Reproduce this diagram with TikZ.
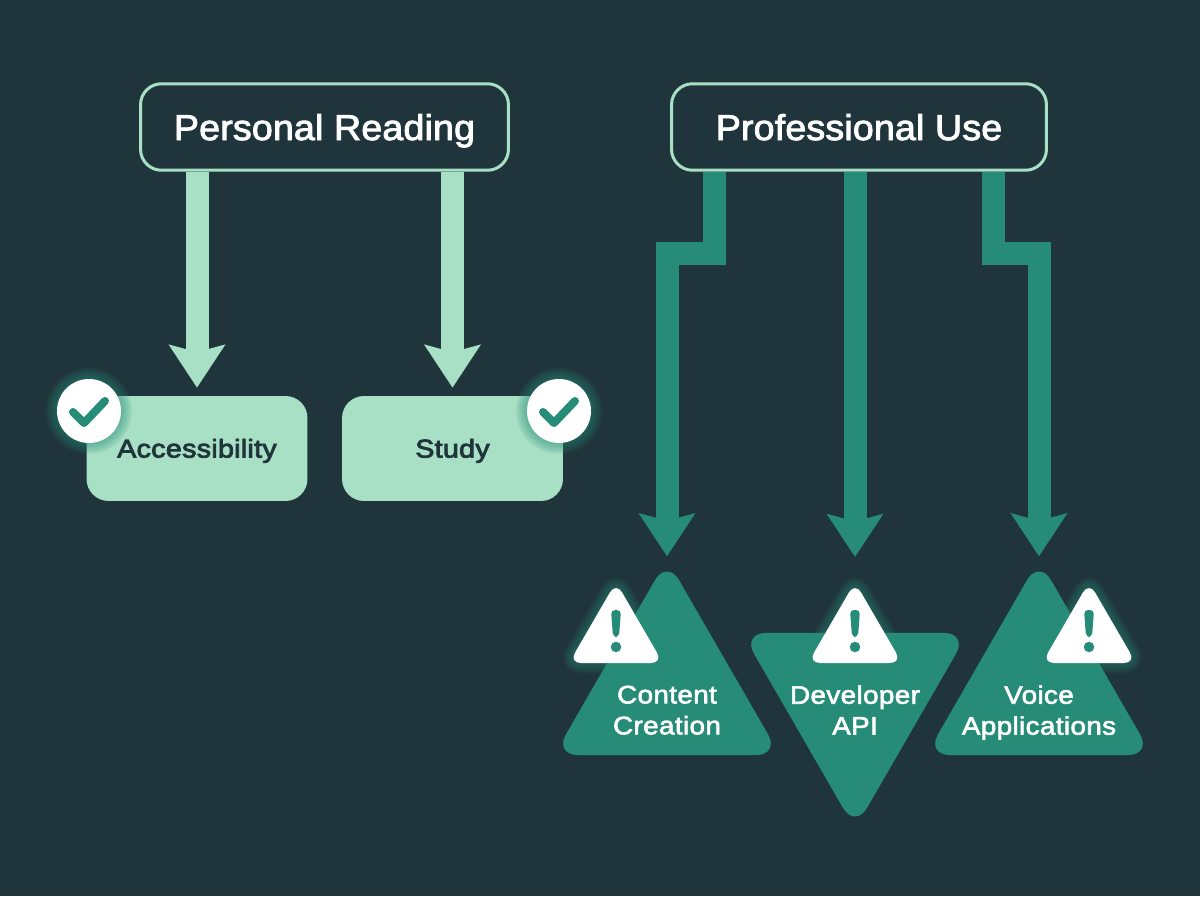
\documentclass[tikz,border=0pt]{standalone}
\usepackage{fontspec}
\setmainfont{Liberation Sans}
\newfontfamily\headfont[FakeBold=2.4, FakeStretch=1.05, LetterSpace=0.4]{Liberation Sans}
\newfontfamily\goodfont[FakeBold=3.2, FakeStretch=1.12, LetterSpace=1]{Liberation Sans}
\newfontfamily\riskfont[FakeBold=2.4, FakeStretch=1.1, LetterSpace=1.5]{Liberation Sans}
\usetikzlibrary{arrows.meta, positioning, shapes.geometric}

\definecolor{bgdark}{HTML}{20353B}
\definecolor{mint}{HTML}{A8E0C5}
\definecolor{teal}{HTML}{268C78}

\tikzset{
    headbox/.style={draw=mint, line width=0.06cm, rounded corners=0.42cm, minimum width=7.36cm, minimum height=1.73cm, text=white, text height=0.52cm, text depth=0pt, font=\headfont\fontsize{20.4}{24}\selectfont},
    goodbox/.style={fill=mint, rounded corners=0.44cm, minimum width=4.42cm, minimum height=2.1cm, text=bgdark, text height=0.36cm, text depth=0pt, font=\goodfont\fontsize{14.6}{18}\selectfont},
    risktri/.style={regular polygon, regular polygon sides=3, fill=teal, rounded corners=0.48cm, minimum size=5.22cm, inner sep=0pt, outer sep=0pt},
    risktext/.style={text=white, align=center, text depth=0pt, font=\riskfont\fontsize{14.4}{17.6}\selectfont},
    lightarrow/.style={draw=mint, line width=0.46cm, -{Stealth[length=0.85cm, width=1.1cm, inset=0.14cm]}},
    darkarrow/.style={draw=teal, line width=0.46cm, -{Stealth[length=0.85cm, width=1.1cm, inset=0.14cm]}},
    glow/.style={draw=teal, opacity=0.11, line join=round, rounded corners=0.24cm}
}

\begin{document}
\begin{tikzpicture}[x=0.02cm, y=-0.02cm]
    \fill[bgdark] (0, 0) rectangle (1200, 896);
    \useasboundingbox (0, 0) rectangle (1200, 896);

    % Top boxes
    \node[headbox] (personal) at (324.5, 127) {Personal Reading};
    \node[headbox, minimum width=7.5cm] (professional) at (859, 127) {Professional Use};

    % Personal side
    \node[goodbox] (access) at (197, 448.5) {Accessibility};
    \node[goodbox] (study) at (452.5, 448.5) {Study};
    \draw[lightarrow, shorten >=0.16cm] (personal.south -| access.north) -- (access.north);
    \draw[lightarrow, shorten >=0.16cm] (personal.south -| study.north) -- (study.north);

    % Professional side
    \node[risktri] (content) at (667, 689.8) {};
    \node[risktri, shape border rotate=180] (developer) at (855, 698.2) {};
    \node[risktri] (voice) at (1039, 689.8) {};
    \node[risktext] (contentlabel) at (667, 710) {Content\\Creation};
    \node[risktext] (developerlabel) at (855, 710) {Developer\\API};
    \node[risktext] (voicelabel) at (1039, 710) {Voice\\Applications};

    \coordinate (leftstart) at (714, 172);
    \coordinate (rightstart) at (993, 172);
    \draw[darkarrow, shorten >=0.06cm] (leftstart) -- ++(0, 81) -| (content.north);
    \draw[darkarrow, shorten >=1.52cm] (professional.south -| developer.north) -- (developer.north);
    \draw[darkarrow, shorten >=0.06cm] (rightstart) -- ++(0, 81) -| (voice.north);

    % Check badges
    \foreach \cx in {89, 559} {
        \foreach \gr in {33, 35, 37, 39, 41, 43}
            \fill[teal, opacity=0.11] (\cx, 411) circle (\gr*0.02cm);
        \fill[white] (\cx, 411) circle (0.64cm);
        \draw[teal, line width=0.16cm, line cap=round, line join=round] (\cx-16, 412) -- (\cx-5, 423) -- (\cx+16, 401);
    }

    % Warning badges
    \foreach \wx in {616, 855, 1089} {
        \foreach \gw in {4, 8, 12, 16, 20}
            \draw[glow, line width=\gw*0.02cm] (\wx, 582) -- (\wx+47, 663) -- (\wx-47, 663) -- cycle;
        \fill[white, rounded corners=0.24cm] (\wx, 582) -- (\wx+47, 663) -- (\wx-47, 663) -- cycle;
        \fill[teal, rounded corners=0.08cm] (\wx-5, 610) -- (\wx+5, 610) -- (\wx+3, 637) -- (\wx-3, 637) -- cycle;
        \fill[teal] (\wx, 647) circle (0.105cm);
    }
\end{tikzpicture}
\end{document}
